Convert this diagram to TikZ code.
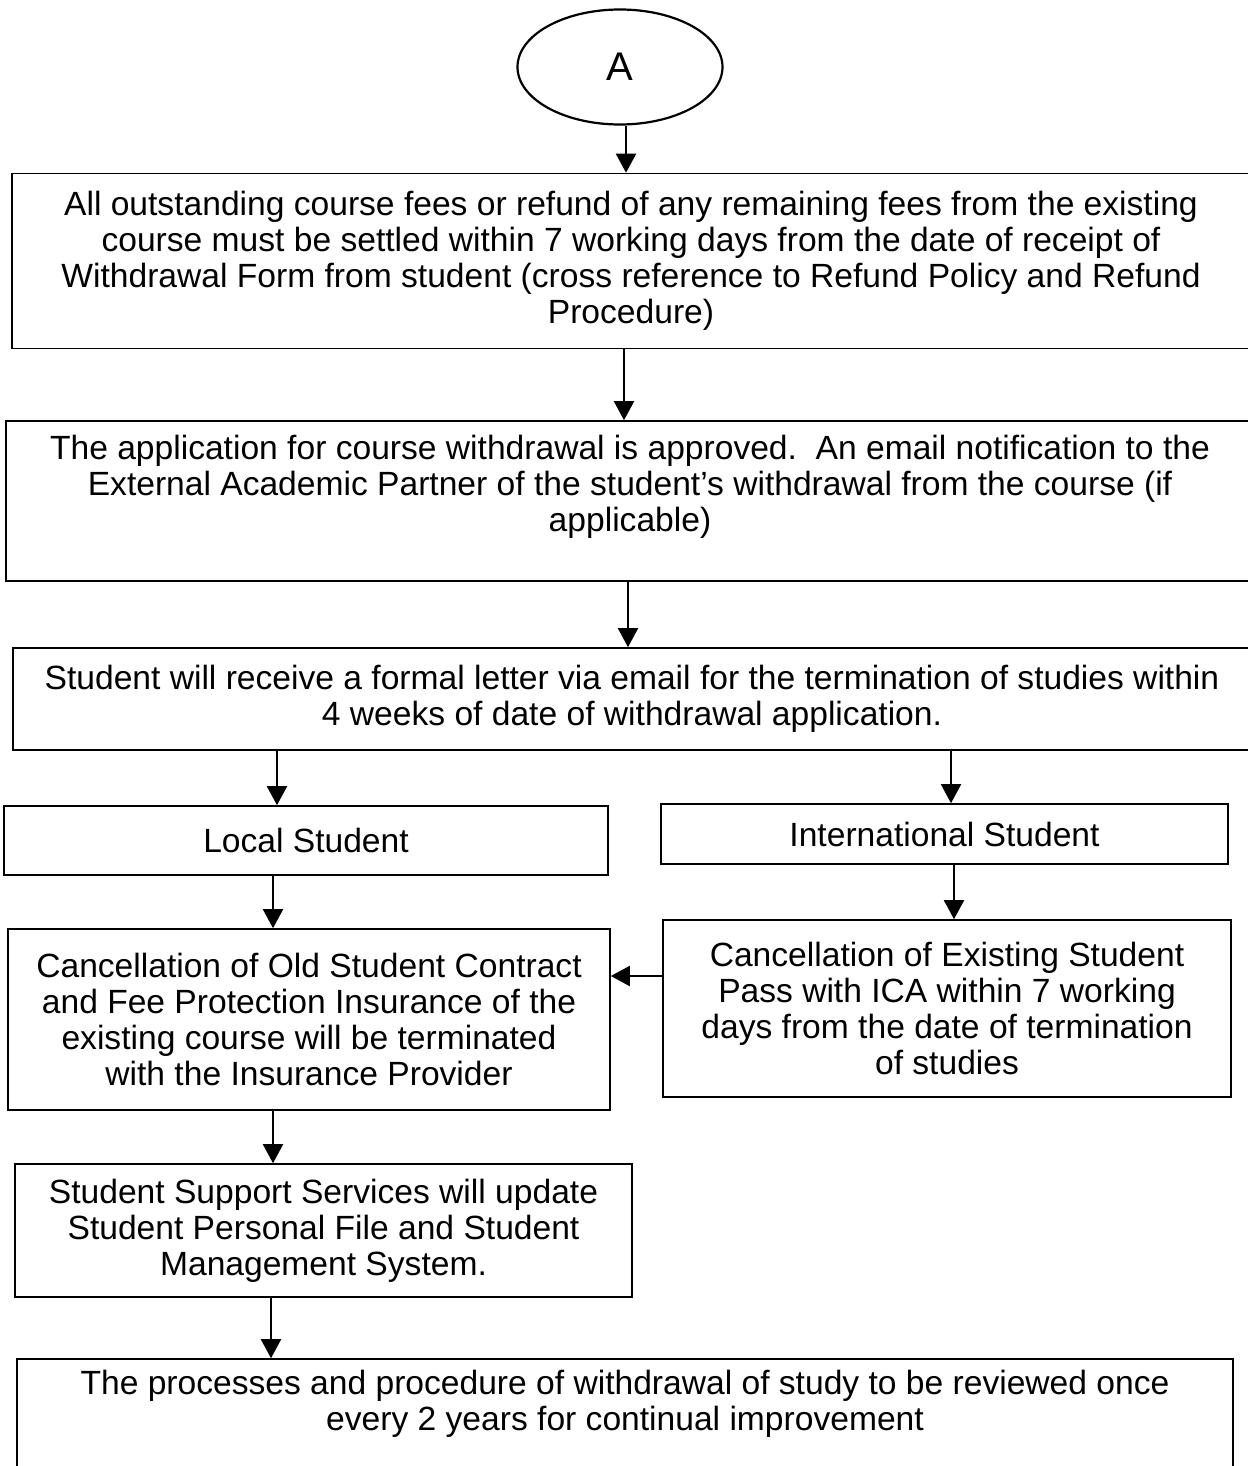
\documentclass[tikz,border=0pt]{standalone}
\usepackage{fontspec}
\setmainfont{Liberation Sans}
\usetikzlibrary{shapes.geometric,arrows.meta}

\begin{document}
\begin{tikzpicture}[x=0.5pt, y=-0.5pt,
    box/.style={draw, line width=0.8pt, rectangle, inner sep=0pt, align=center,
        font=\fontsize{16.8}{17.9}\selectfont},
    arr/.style={line width=1pt, -{Triangle[length=9.5pt,width=10pt]}}]
        \useasboundingbox (0,0) rectangle (1247,1466);

        % Start
        \node[draw, line width=1.1pt, ellipse, minimum width=102.5pt, minimum height=57.5pt,
            font=\fontsize{20}{22}\selectfont] (A) at (620,67) {A};

        % Main column
        \node[box, minimum width=619pt, minimum height=87.5pt] (fees) at (631,261)
            {All outstanding course fees or refund of any remaining fees from the existing\\
             course must be settled within 7 working days from the date of receipt of\\
             Withdrawal Form from student (cross reference to Refund Policy and Refund\\
             Procedure)};
        \node[box, minimum width=624pt, minimum height=80pt] (approved) at (630,501)
            {The application for course withdrawal is approved.\ \ An email notification to the\\
             External Academic Partner of the student’s withdrawal from the course (if\\
             applicable)\\ \mbox{}};
        \node[box, minimum width=619pt, minimum height=51pt] (letter) at (632,699)
            {Student will receive a formal letter via email for the termination of studies within\\
             4 weeks of date of withdrawal application.};

        % Two branches
        \node[box, minimum width=302pt, minimum height=34.5pt] (local) at (306,840.5) {Local Student};
        \node[box, minimum width=283.5pt, minimum height=30pt] (intl) at (944.5,834) {International Student};
        \node[box, minimum width=301pt, minimum height=90.5pt] (contract) at (309,1019.5)
            {Cancellation of Old Student Contract\\
             and Fee Protection Insurance of the\\
             existing course will be terminated\\
             with the Insurance Provider};
        \node[box, minimum width=284pt, minimum height=88.5pt] (pass) at (947,1008.5)
            {Cancellation of Existing Student\\
             Pass with ICA within 7 working\\
             days from the date of termination\\
             of studies};
        \node[box, minimum width=308.5pt, minimum height=66.5pt] (support) at (323.5,1230.5)
            {Student Support Services will update\\
             Student Personal File and Student\\
             Management System.};
        \node[box, minimum width=608pt, minimum height=59pt] (review) at (625,1418)
            {The processes and procedure of withdrawal of study to be reviewed once\\
             every 2 years for continual improvement\\ \mbox{}};

        % Arrow columns
        \coordinate (c1) at (626,0);
        \coordinate (c2) at (624,0);
        \coordinate (c3) at (628,0);
        \coordinate (c4) at (277,0);
        \coordinate (c5) at (951,0);
        \coordinate (c6) at (273,0);
        \coordinate (c7) at (954,0);
        \coordinate (c8) at (271,0);
        \coordinate (r1) at (0,976);

        % Connectors
        \draw[arr] (c1 |- A.south) -- (c1 |- fees.north);
        \draw[arr] (c2 |- fees.south) -- (c2 |- approved.north);
        \draw[arr] (c3 |- approved.south) -- (c3 |- letter.north);
        \draw[arr] (c4 |- letter.south) -- (c4 |- local.north);
        \draw[arr] (c5 |- letter.south) -- (c5 |- intl.north);
        \draw[arr] (c6 |- local.south) -- (c6 |- contract.north);
        \draw[arr] (c7 |- intl.south) -- (c7 |- pass.north);
        \draw[arr] (pass.west |- r1) -- (contract.east |- r1);
        \draw[arr] (c6 |- contract.south) -- (c6 |- support.north);
        \draw[arr] (c8 |- support.south) -- (c8 |- review.north);
    \end{tikzpicture}
\end{document}
